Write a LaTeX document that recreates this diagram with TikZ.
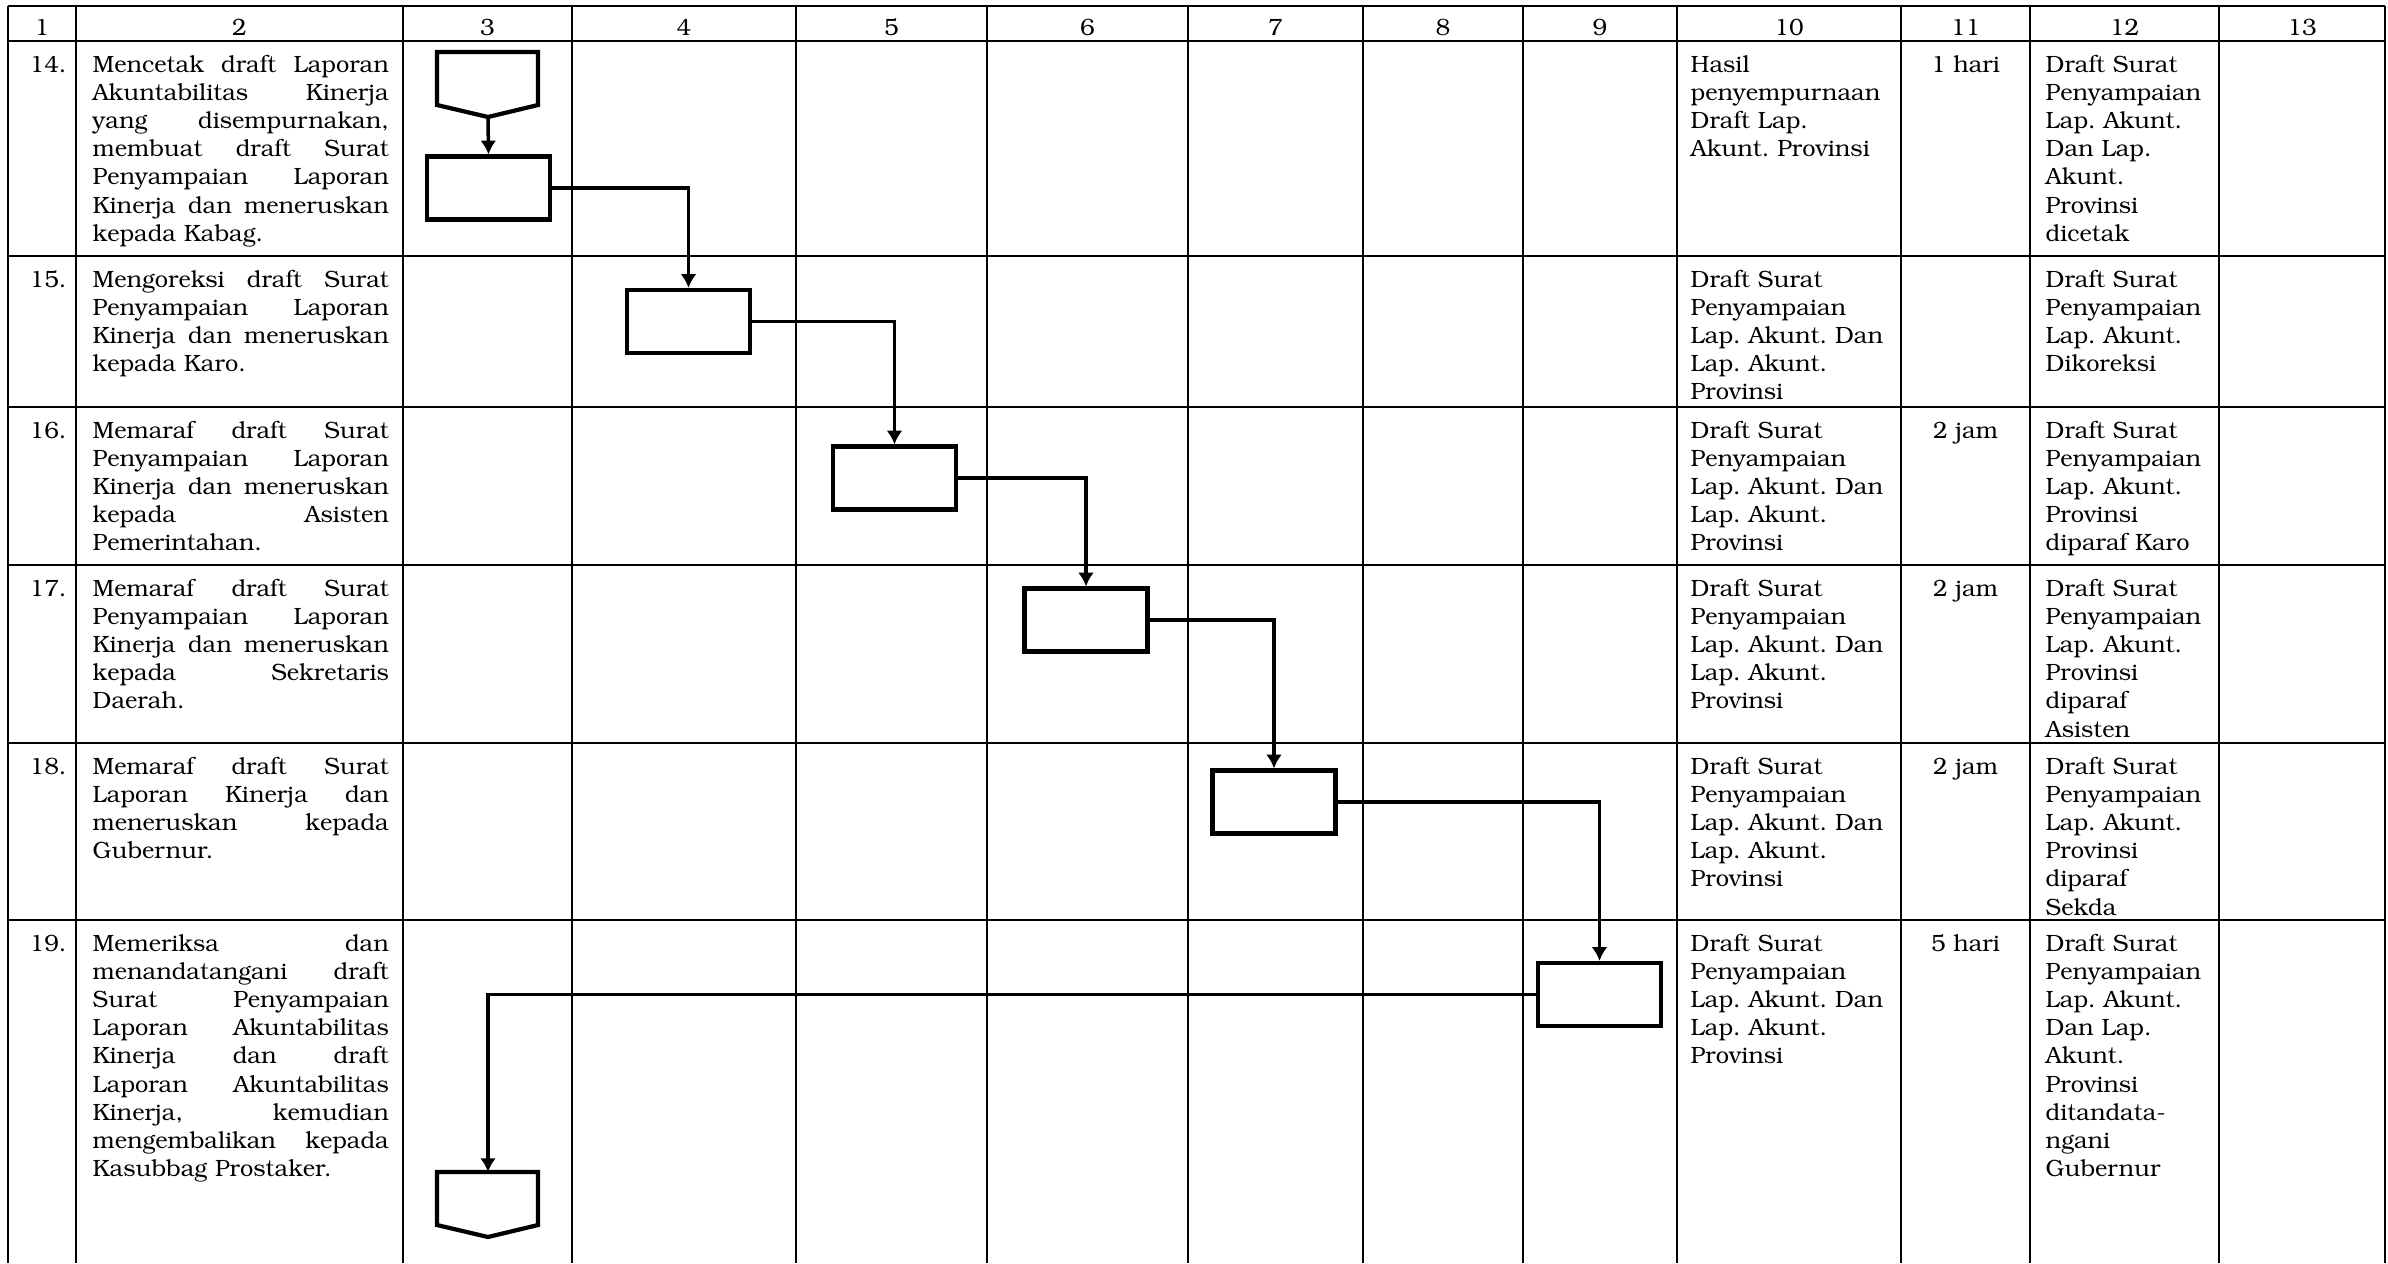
\documentclass[tikz,border=0pt]{standalone}
\usepackage[T1]{fontenc}
\usepackage{bookman}
\usetikzlibrary{arrows.meta}
\frenchspacing
\newlength\dw
\setlength\dw{2.96cm}
\newcommand\jl[1]{\leavevmode\hbox to\dw{#1}\\}
\begin{document}
\begin{tikzpicture}[x=0.01cm,y=-0.01cm,
  grid/.style={line width=0.7pt},
  box/.style={draw, line width=1.2pt, minimum width=1.23cm, minimum height=0.63cm, inner sep=0},
  flow/.style={line width=1pt, -{Latex[length=3.9pt,width=4.5pt]}},
  txt/.style={inner sep=0, anchor=base west, font=\fontsize{6.7}{8.02}\selectfont\frenchspacing},
  desc/.style={txt, text width=2.96cm, align=left},
  col/.style={txt, text width=2.1cm, align=left},
  ctr/.style={inner sep=0, anchor=base, font=\fontsize{6.7}{8.02}\selectfont},
  pent/.style={line width=1.2pt, line join=miter}]
\useasboundingbox (0,0) rectangle (2388,1263);
% grid
\foreach \x in {8,76,403,572,796,987,1188,1363,1523,1677,1901,2030,2219,2385}
  \draw[grid] (\x,6) -- (\x,1263);
\foreach \y in {6,41,256,407,565,743,920}
  \draw[grid] (8,\y) -- (2385,\y);
% header
\foreach \c/\n in {42/1,239.5/2,487.5/3,684/4,891.5/5,1087.5/6,1275.5/7,1443/8,1600/9,1789/10,1965.5/11,2124.5/12,2302/13}
  \node[ctr] (h\n) at (\c,35) {\n};
% column 1
\node[txt] (n14) at (29,72) {14.};
\node[txt] (n15) at (29,287) {15.};
\node[txt] (n16) at (29,438) {16.};
\node[txt] (n17) at (29,596) {17.};
\node[txt] (n18) at (29,774) {18.};
\node[txt] (n19) at (29,951) {19.};
% column 2
\node[desc] (d14) at (92,72) {\jl{Mencetak\hfill draft\hfill Laporan}\jl{Akuntabilitas\hfill Kinerja}\jl{yang\hfill disempurnakan,}\jl{membuat\hfill draft\hfill Surat}\jl{Penyampaian\hfill Laporan}\jl{Kinerja\hfill dan\hfill meneruskan}kepada Kabag.};
\node[desc] (d15) at (92,287) {\jl{Mengoreksi\hfill draft\hfill Surat}\jl{Penyampaian\hfill Laporan}\jl{Kinerja\hfill dan\hfill meneruskan}kepada Karo.};
\node[desc] (d16) at (92,438) {\jl{Memaraf\hfill draft\hfill Surat}\jl{Penyampaian\hfill Laporan}\jl{Kinerja\hfill dan\hfill meneruskan}\jl{kepada\hfill Asisten}Pemerintahan.};
\node[desc] (d17) at (92,596) {\jl{Memaraf\hfill draft\hfill Surat}\jl{Penyampaian\hfill Laporan}\jl{Kinerja\hfill dan\hfill meneruskan}\jl{kepada\hfill Sekretaris}Daerah.};
\node[desc] (d18) at (92,774) {\jl{Memaraf\hfill draft\hfill Surat}\jl{Laporan\hfill Kinerja\hfill dan}\jl{meneruskan\hfill kepada}Gubernur.};
\node[desc] (d19) at (92,951) {\jl{Memeriksa\hfill dan}\jl{menandatangani\hfill draft}\jl{Surat\hfill Penyampaian}\jl{Laporan\hfill Akuntabilitas}\jl{Kinerja\hfill dan\hfill draft}\jl{Laporan\hfill Akuntabilitas}\jl{Kinerja,\hfill kemudian}\jl{mengembalikan\hfill kepada}Kasubbag Prostaker.};
% column 10
\node[col] (a14) at (1690,72) {Hasil\\penyempurnaan\\Draft Lap.\\Akunt. Provinsi};
\foreach \r/\y in {15/287,16/438,17/596,18/774,19/951}
  \node[col] (a\r) at (1690,\y) {Draft Surat\\Penyampaian\\Lap. Akunt. Dan\\Lap. Akunt.\\Provinsi};
% column 11
\node[ctr] (w14) at (1965.5,72) {1 hari};
\node[ctr] (w16) at (1965.5,438) {2 jam};
\node[ctr] (w17) at (1965.5,596) {2 jam};
\node[ctr] (w18) at (1965.5,774) {2 jam};
\node[ctr] (w19) at (1965.5,951) {5 hari};
% column 12
\node[col] (o14) at (2045,72) {Draft Surat\\Penyampaian\\Lap. Akunt.\\Dan Lap.\\Akunt.\\Provinsi\\dicetak};
\node[col] (o15) at (2045,287) {Draft Surat\\Penyampaian\\Lap. Akunt.\\Dikoreksi};
\node[col] (o16) at (2045,438) {Draft Surat\\Penyampaian\\Lap. Akunt.\\Provinsi\\diparaf Karo};
\node[col] (o17) at (2045,596) {Draft Surat\\Penyampaian\\Lap. Akunt.\\Provinsi\\diparaf\\Asisten};
\node[col] (o18) at (2045,774) {Draft Surat\\Penyampaian\\Lap. Akunt.\\Provinsi\\diparaf\\Sekda};
\node[col] (o19) at (2045,951) {Draft Surat\\Penyampaian\\Lap. Akunt.\\Dan Lap.\\Akunt.\\Provinsi\\ditandata-\\ngani\\Gubernur};
% off-page connectors
\draw[pent] (437,52) -- (538,52) -- (538,105) -- (488,117) -- (437,105) -- cycle;
\coordinate (p1tip) at (488,117);
\draw[pent] (437,1172) -- (538,1172) -- (538,1225) -- (488,1237) -- (437,1225) -- cycle;
\coordinate (p2top) at (488,1172);
% process boxes
\node[box] (r14) at (488.5,188) {};
\node[box] (r15) at (688.5,321.5) {};
\node[box] (r16) at (894.5,478) {};
\node[box] (r17) at (1086,620) {};
\node[box] (r18) at (1274,802) {};
\node[box] (r19) at (1599.5,994.5) {};
% connectors
\draw[flow] (p1tip) -- (r14.north);
\draw[flow] (r14.east) -| (r15.north);
\draw[flow] (r15.east) -| (r16.north);
\draw[flow] (r16.east) -| (r17.north);
\draw[flow] (r17.east) -| (r18.north);
\draw[flow] (r18.east) -| (r19.north);
\draw[flow] (r19.west) -| (p2top);
\end{tikzpicture}
\end{document}
